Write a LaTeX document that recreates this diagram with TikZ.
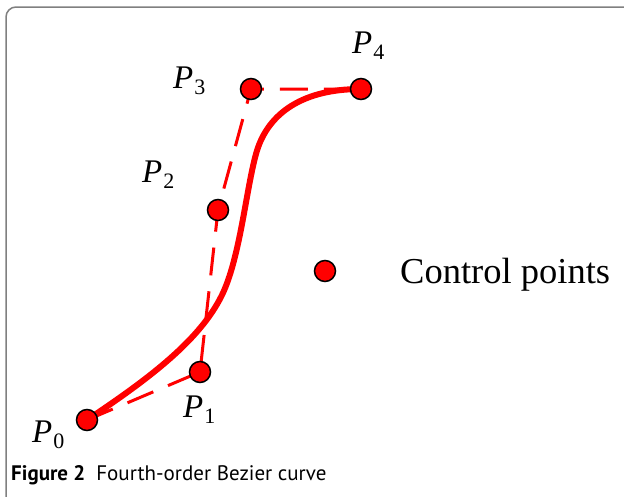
\documentclass[tikz,border=0pt]{standalone}
\usepackage{fontspec}
\setmainfont{Liberation Serif}
\newfontfamily\capfont{PT Sans}
\newcommand{\plab}[1]{\fontsize{33}{33}\selectfont\textit{P}\kern1pt\raisebox{-6pt}{\fontsize{22}{22}\selectfont #1}}
\begin{document}
\begin{tikzpicture}[x=1pt,y=-1pt,
  ctrl/.style={circle,draw=black,fill=red,line width=1.5pt,minimum size=21pt,inner sep=0pt},
  ctrlline/.style={red,line width=3pt,dash pattern=on 28pt off 16pt},
  bcurve/.style={red,line width=6pt},
  lab/.style={anchor=base west,inner sep=0pt},
  frame/.style={draw=gray,line width=1.5pt,rounded corners=10pt}]
\useasboundingbox (0,0) rectangle (624,496);
\clip (0,0) rectangle (624,496);
\draw[frame] (6,7) rectangle (650,520);
% control point positions
\coordinate (c0) at (87,420);
\coordinate (c1) at (200,372);
\coordinate (c2) at (218,210);
\coordinate (c3) at (251,89);
\coordinate (c4) at (361,89);
% control polygon
\draw[ctrlline] (c0) -- (c1) -- (c2) -- (c3) -- (c4);
% curve
\draw[bcurve] (c0) .. controls (150,378) and (200,340) .. (222,295)
  .. controls (240,258) and (246,190) .. (256,154)
  .. controls (266,117) and (298,89) .. (c4);
% points
\node[ctrl] (p0) at (c0) {};
\node[ctrl] (p1) at (c1) {};
\node[ctrl] (p2) at (c2) {};
\node[ctrl] (p3) at (c3) {};
\node[ctrl] (p4) at (c4) {};
% labels
\node[lab] (l0) at (32,442) {\plab{0}};
\node[lab] (l1) at (183,417) {\plab{1}};
\node[lab] (l2) at (142,182) {\plab{2}};
\node[lab] (l3) at (173,88) {\plab{3}};
\node[lab] (l4) at (352,53) {\plab{4}};
% legend
\node[ctrl] (leg) at (325,271) {};
\node[lab] (legt) at (400,283) {\fontsize{36.5}{36.5}\selectfont Control points};
% caption
\node[lab] (cap) at (11,480) {\capfont\fontsize{21}{21}\selectfont\textbf{Figure 2}\hspace{11pt}Fourth-order Bezier curve};
\end{tikzpicture}
\end{document}
